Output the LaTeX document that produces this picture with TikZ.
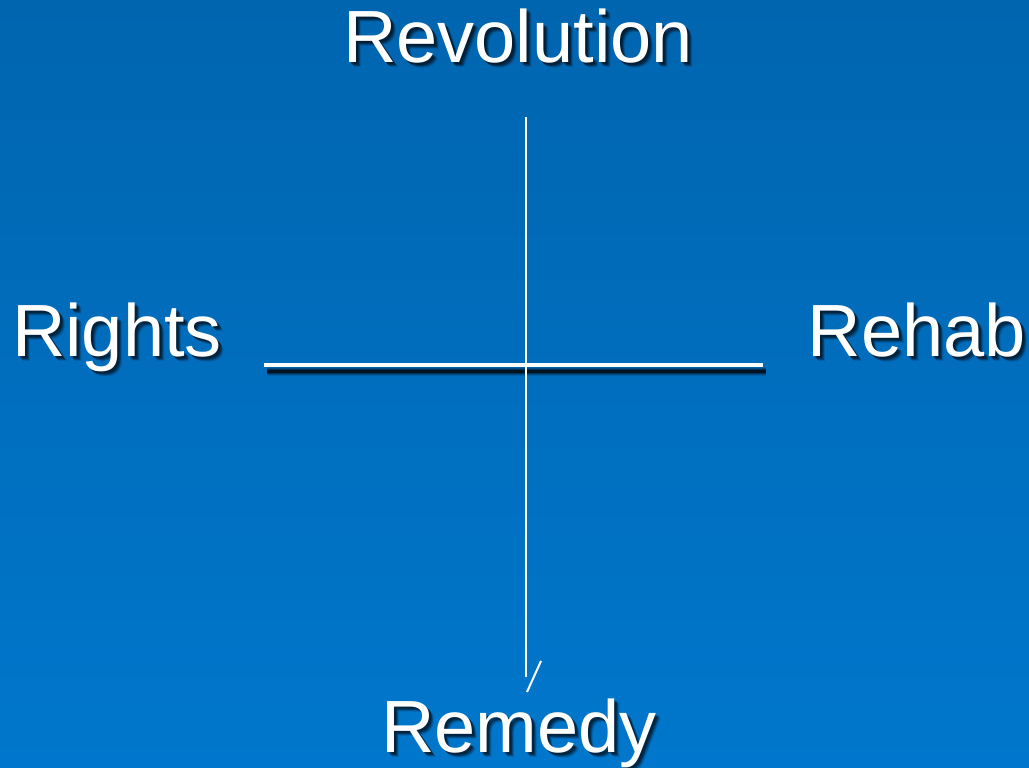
\documentclass[tikz,border=0pt]{standalone}
\usepackage{fontspec}
\setmainfont{Liberation Sans}
\definecolor{bgtop}{RGB}{0,101,175}
\definecolor{bgbot}{RGB}{0,119,204}
\begin{document}
\begin{tikzpicture}[x=1pt,y=1pt,
  lbl/.style={font=\fontsize{74}{80}\selectfont, text=white, inner sep=0pt, anchor=base},
  shd/.style={lbl, text=black},
  wline/.style={draw=white, line cap=butt}]
\useasboundingbox (0,0) rectangle (1029,768);
\shade[top color=bgtop, bottom color=bgbot] (0,0) rectangle (1029,768);
% label positions
\coordinate (pRev) at (518,705);
\coordinate (pRig) at (117,411);
\coordinate (pReh) at (917,411);
\coordinate (pRem) at (519,15);
% text shadows
\foreach \p/\t in {pRev/Revolution, pRig/Rights, pReh/Rehab, pRem/Remedy}{
  \foreach \dx/\dy/\o in {2/-2/0.25, 3/-3/0.35, 4/-4/0.25, 5/-5/0.12}{
    \node[shd, opacity=\o] at ([shift={(\dx,\dy)}]\p) {\t};
  }
}
\node[lbl] (rev) at (pRev) {Revolution};
\node[lbl] (rig) at (pRig) {Rights};
\node[lbl] (reh) at (pReh) {Rehab};
\node[lbl] (rem) at (pRem) {Remedy};
% horizontal line with shadow
\coordinate (hl) at (264,403);
\coordinate (hr) at (763,403);
\foreach \w/\o in {9/0.12, 7/0.2, 5/0.35, 3/0.6}{
  \draw[black, line width=\w, opacity=\o] ([shift={(3,-7)}]hl) -- ([shift={(3,-7)}]hr);
}
\draw[wline, line width=4] (hl) -- (hr);
% vertical line
\coordinate (vt) at (526,651);
\coordinate (vb) at (526,91);
\draw[wline, line width=2] (vt) -- (vb);
% small diagonal stroke
\coordinate (dt) at (541,107);
\coordinate (db) at (527,76);
\draw[wline, line width=2] (dt) -- (db);
\end{tikzpicture}
\end{document}
